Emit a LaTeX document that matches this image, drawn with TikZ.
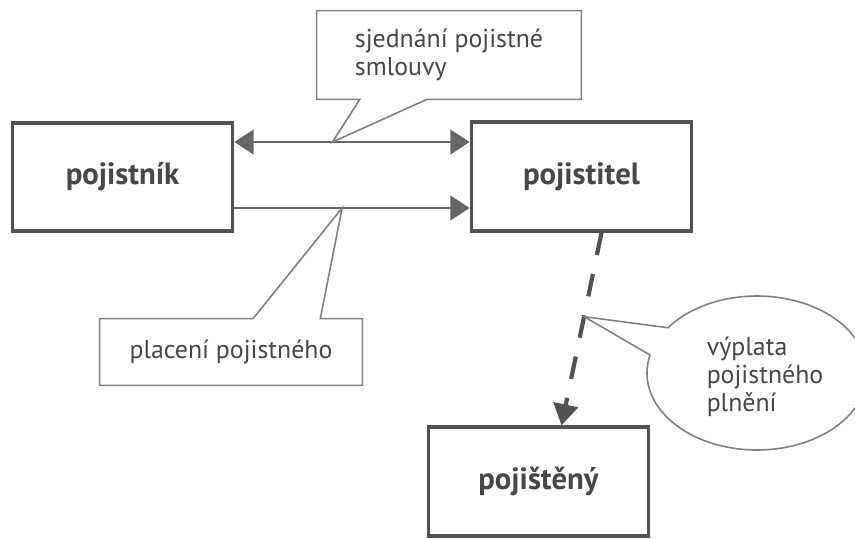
\documentclass[tikz,border=0pt]{standalone}
\usepackage{fontspec}
\setmainfont{PT Sans}
\usetikzlibrary{arrows.meta,calc}
\definecolor{boxgray}{gray}{0.32}
\definecolor{linegray}{gray}{0.4}
\definecolor{notegray}{gray}{0.5}
\definecolor{textgray}{gray}{0.28}
\newcommand{\partyfont}{\bfseries\fontsize{17.5}{20}\selectfont}
\newcommand{\notefont}{\fontsize{14.7}{16}\selectfont}

\begin{document}
\begin{tikzpicture}[x=0.02cm,y=0.02cm,
    party/.style={draw=boxgray, line width=2.2pt, minimum width=4.4cm, minimum height=2.17cm, font=\partyfont, text=textgray},
    note/.style={inner sep=0pt, align=left, font=\notefont, text=textgray},
    noteline/.style={draw=notegray, line width=0.9pt, fill=white},
    flow/.style={draw=linegray, line width=1.7pt, line cap=butt},
    payout/.style={draw=boxgray, line width=2.4pt, dash pattern=on 13pt off 11pt},
    tip/.tip={Triangle[length=11pt, width=14pt, fill=linegray]}]
    \useasboundingbox (0,0) rectangle (855,538);
    \clip (0,0) rectangle (855,538);
    % the three parties
    \node[party] (pojistnik) at (122.5,361) {pojistník};
    \node[party] (pojistitel) at (581.5,361.5) {pojistitel};
    \node[party] (pojisteny) at (538.5,56.5) {pojištěný};
    % flows between them
    \coordinate (s1) at ($(pojistnik.east)+(0,35)$);
    \coordinate (e1) at (s1 -| pojistitel.west);
    \coordinate (s2) at ($(pojistnik.east)+(0,-31)$);
    \coordinate (e2) at (s2 -| pojistitel.west);
    \draw[flow, tip-tip] (s1) -- (e1);
    \draw[flow, -tip] (s2) -- (e2);
    \coordinate (s3) at ($(pojistitel.south)+(20,0)$);
    \coordinate (e3) at ($(pojisteny.north)+(23,0)$);
    \draw[payout, -{Triangle[length=12pt, width=14pt, fill=boxgray]}] (s3) -- (e3);
    % callouts
    \node[note, minimum width=5.28cm, minimum height=1.76cm] (sjednani) at (449,483) {};
    \draw[noteline] (sjednani.south west) -- (sjednani.north west) -- (sjednani.north east)
        -- (sjednani.south east) -- ($(sjednani.south west)!0.417!(sjednani.south east)$)
        -- ($(s1)!0.417!(e1)$) -- ($(sjednani.south west)!0.163!(sjednani.south east)$) -- cycle;
    \node[note] at (sjednani) {sjednání pojistné\\smlouvy};
    \node[note, minimum width=5.24cm, minimum height=1.32cm] (placeni) at (231,186) {};
    \draw[noteline] (placeni.north west) -- ($(placeni.north west)!0.584!(placeni.north east)$)
        -- ($(s2)!0.458!(e2)$) -- ($(placeni.north west)!0.84!(placeni.north east)$)
        -- (placeni.north east) -- (placeni.south east) -- (placeni.south west) -- cycle;
    \node[note] at (placeni) {placení pojistného};
    \coordinate (ec) at (757,165);
    \coordinate (t3) at ($(s3)!0.436!(e3)$);
    \draw[noteline] ($(ec)+(166.5:110 and 77)$) arc[start angle=166.5, end angle=504, x radius=110, y radius=77]
        -- (t3) -- cycle;
    \node[note] (plneni) at (765,161) {výplata\\pojistného\\plnění};
\end{tikzpicture}
\end{document}
